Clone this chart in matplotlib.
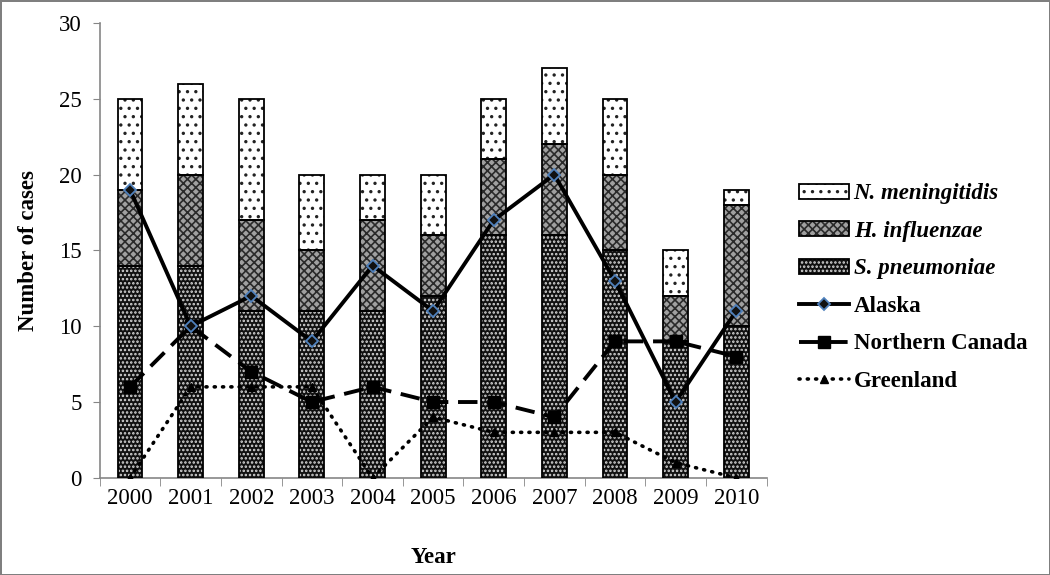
import numpy as np
import matplotlib.pyplot as plt
from matplotlib.patches import Patch
from matplotlib.legend_handler import HandlerTuple

years = ['2000', '2001', '2002', '2003', '2004', '2005', '2006', '2007', '2008', '2009', '2010']
s_pneumoniae = [14, 14, 11, 11, 11, 12, 16, 16, 15, 9, 10]
h_influenzae = [5, 6, 6, 4, 6, 4, 5, 6, 5, 3, 8]
n_meningitidis = [6, 6, 8, 5, 3, 4, 4, 5, 5, 3, 1]
alaska = [19, 10, 12, 9, 14, 11, 17, 20, 13, 5, 11]
northern_canada = [6, 10, 7, 5, 6, 5, 5, 4, 9, 9, 8]
greenland = [0, 6, 6, 6, 0, 4, 3, 3, 3, 1, 0]

plt.rcParams['font.family'] = ['Liberation Serif', 'DejaVu Serif']
plt.rcParams['hatch.linewidth'] = 1.2

fig = plt.figure(figsize=(10.5, 5.75), dpi=100)
fig.patch.set_edgecolor('#7f7f7f')
fig.patch.set_linewidth(2)
ax = fig.add_axes([0.095, 0.169, 0.635, 0.791])

x = np.arange(len(years))
w = 0.41
bottoms = np.zeros(len(years))
styles = [
    (s_pneumoniae, '#111111', '#d8d8d8', '....', 'S. pneumoniae'),
    (h_influenzae, '#a0a0a0', '#2a2a2a', 'xxxx', 'H. influenzae'),
    (n_meningitidis, 'white', '#222222', '..', 'N. meningitidis'),
]
bar_handles = {}
for vals, fc, hc, hatch, name in styles:
    ax.bar(x, vals, w, bottom=bottoms, color=fc, edgecolor=hc, hatch=hatch,
           linewidth=0, zorder=2)
    ax.bar(x, vals, w, bottom=bottoms, fill=False, edgecolor='black',
           linewidth=1.3, zorder=3)
    bottoms += np.array(vals)
    bar_handles[name] = (Patch(facecolor=fc, edgecolor=hc, hatch=hatch, linewidth=0),
                         Patch(fill=False, edgecolor='black', linewidth=1.3))

l_ak, = ax.plot(x, alaska, color='black', lw=2.8, marker='D', ms=6,
                mfc='#111111', mec='#4f81bd', mew=1.3, zorder=5)
l_nc, = ax.plot(x, northern_canada, color='black', lw=2.8, dashes=(5, 2.5),
                marker='s', ms=8, zorder=4)
l_gl, = ax.plot(x, greenland, color='black', lw=2.6, linestyle=(0, (0.3, 2)),
                dash_capstyle='round', marker='^', ms=6, zorder=4)

ax.set_xlim(-0.5, len(years) - 0.5)
ax.set_ylim(0, 30)
ax.set_yticks(range(0, 31, 5))
ax.set_xticks(x)
ax.set_xticklabels(years)
ax.set_xticks(np.arange(-0.5, len(years)), minor=True)
ax.tick_params(axis='x', which='major', length=0, pad=7, labelsize=16.5)
ax.tick_params(axis='x', which='minor', length=6, color='#868686', direction='out')
ax.tick_params(axis='y', length=5, color='#868686', labelsize=16.5, pad=8)
for side in ['top', 'right']:
    ax.spines[side].set_visible(False)
for side in ['left', 'bottom']:
    ax.spines[side].set_color('#868686')
    ax.spines[side].set_linewidth(1.2)

ax.set_ylabel('Number of cases', fontsize=16.5, fontweight='bold', labelpad=14)
ax.set_xlabel('Year', fontsize=16.5, fontweight='bold', labelpad=28)

handles = [bar_handles['N. meningitidis'], bar_handles['H. influenzae'],
           bar_handles['S. pneumoniae'], l_ak, l_nc, l_gl]
labels = ['N. meningitidis', 'H. influenzae', 'S. pneumoniae',
          'Alaska', 'Northern Canada', 'Greenland']
leg = fig.legend(handles, labels, loc='upper left', bbox_to_anchor=(0.741, 0.717),
                 frameon=False, fontsize=16.5, handlelength=2.2, handleheight=0.6,
                 labelspacing=0.72, handletextpad=0.2,
                 handler_map={tuple: HandlerTuple(ndivide=1)})
for i, t in enumerate(leg.get_texts()):
    t.set_fontweight('bold')
    if i < 3:
        t.set_fontstyle('italic')

fig.savefig('out.png', dpi=100, edgecolor=fig.get_edgecolor())
